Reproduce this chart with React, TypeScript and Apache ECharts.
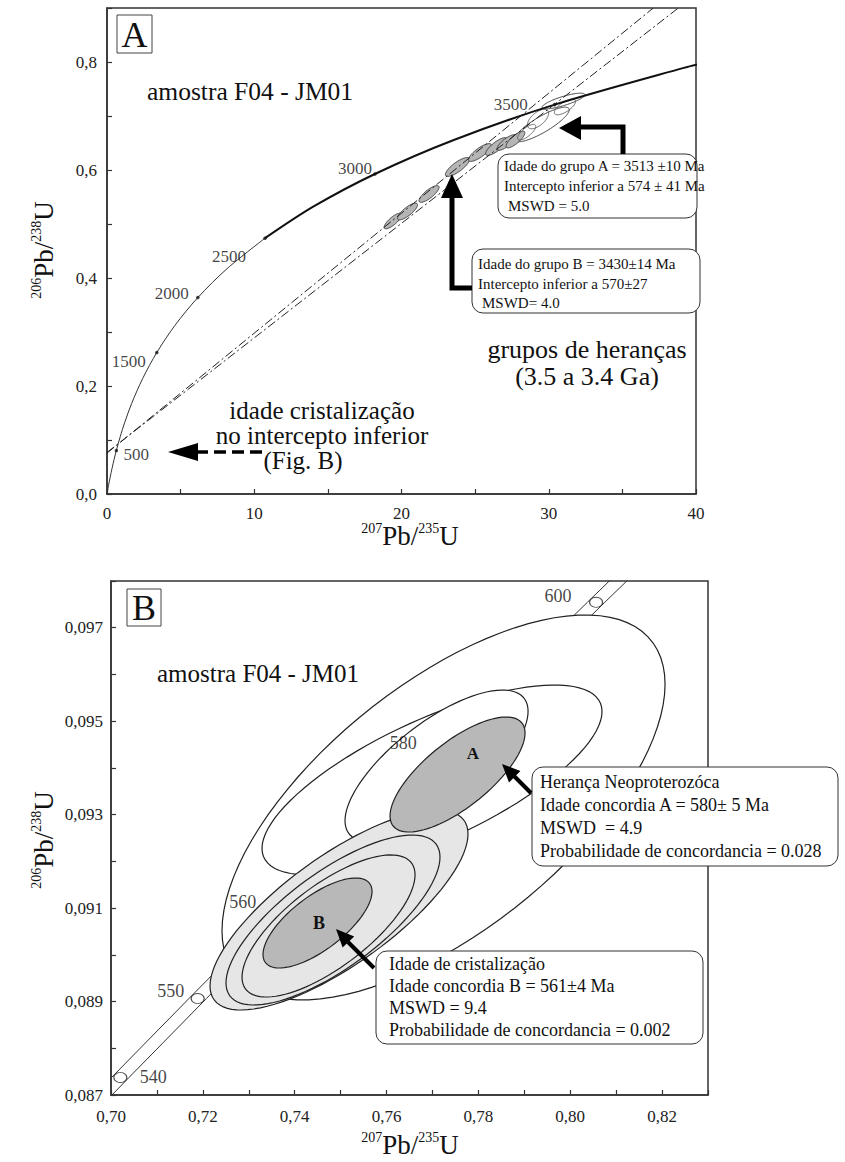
import React, { useEffect, useRef } from 'react';
import * as echarts from 'echarts';

const FONT = "'Liberation Serif', 'Times New Roman', serif";

// ---------------- Panel A (full concordia) ----------------
const concordiaAgesA = [0, 50, 100, 200, 300, 400, 500, 650, 800, 1000, 1250, 1500, 1750, 2000, 2250, 2500, 2750, 3000, 3250, 3500, 3750, 3800];
const concordiaXA = [0, 0.0505, 0.1035, 0.2177, 0.3437, 0.4828, 0.6363, 0.8968, 1.1987, 1.6774, 2.4249, 3.381, 4.604, 6.1685, 8.17, 10.73, 14.004, 18.193, 23.551, 30.405, 39.173, 41.2];
const concordiaYA = [0, 0.00779, 0.01563, 0.03151, 0.04764, 0.06402, 0.08065, 0.10609, 0.13213, 0.16781, 0.21398, 0.26199, 0.3119, 0.36377, 0.41769, 0.47374, 0.53203, 0.59262, 0.65559, 0.72106, 0.78912, 0.80295];
const markedAgesA = [500, 1500, 2000, 2500, 3000, 3500];
// discordia lines (lower intercept region -> top border)
const discordiaGroupA = [[0, 0.077], [38.8, 0.9]];
const discordiaGroupB = [[0, 0.0757], [37.1, 0.9]];
// spots: [x, y, half-extent x, half-extent y, rho]
const spotsWhiteA = [
  [29.54, 0.6843, 1.85, 0.032, 0.85],
  [31.0, 0.7278, 1.45, 0.0145, 0.8],
];
const spotsGreyA = [
  [19.42, 0.5056, 0.6, 0.0145, 0.8],
  [20.41, 0.5231, 0.68, 0.0155, 0.8],
  [21.87, 0.5556, 0.68, 0.0155, 0.8],
  [23.8, 0.6056, 0.82, 0.0175, 0.8],
  [25.33, 0.6324, 0.78, 0.0165, 0.8],
  [26.45, 0.6435, 0.74, 0.0165, 0.8],
  [27.13, 0.6509, 0.64, 0.0145, 0.8],
  [27.74, 0.6565, 0.64, 0.0155, 0.8],
];
const spotsOutlineA = [
  [29.27, 0.6944, 0.72, 0.018, 0.6],
  [31.1, 0.7167, 0.72, 0.0145, 0.7],
  [28.5, 0.6700, 0.62, 0.0145, 0.75],
];

// ---------------- Panel B (zoomed concordia) ----------------
const concordiaAgesB = [530, 540, 550, 560, 570, 580, 590, 600, 610];
const concordiaXB = [0.68535, 0.70203, 0.71887, 0.73588, 0.75306, 0.77041, 0.78793, 0.80563, 0.8235];
const concordiaYB = [0.085691, 0.087376, 0.089064, 0.090755, 0.092448, 0.094144, 0.095843, 0.097544, 0.099248];
const bandLowX = [0.68345, 0.70013, 0.71697, 0.73398, 0.75116, 0.76851, 0.78603, 0.80373, 0.8216];
const bandHighX = [0.68725, 0.70393, 0.72077, 0.73778, 0.75496, 0.77231, 0.78983, 0.80753, 0.8254];
const circledAgesB = [540, 550, 600];
const labelledAgesB = [540, 550, 560, 580, 600];
const ellOuterB = [[0.77241, 0.093153, 0.04824, 0.00412, 0.64]];
const ellMidB = [[0.7699, 0.093741, 0.03702, 0.002033, 0.72]];
const ellAringB = [[0.77089, 0.094041, 0.01993, 0.001626, 0.72]];
const ellLightB = [[0.74965, 0.090959, 0.02809, 0.00214, 0.76]];
const ellBringsB = [
  [0.74834, 0.090745, 0.0233, 0.001819, 0.74],
  [0.74737, 0.090617, 0.01884, 0.00152, 0.72],
];
const ellBgreyB = [[0.74497, 0.090681, 0.01187, 0.000963, 0.7]];
const ellAgreyB = [[0.77546, 0.093859, 0.0147, 0.001231, 0.72]];

// label placement (pixel offsets, styling only)
const labelOffsetA: Record<number, number[]> = { 500: [20, 4], 1500: [-28, 9], 2000: [-26, -4], 2500: [-36, 18], 3000: [-20, -5], 3500: [-44, 0] };
const labelOffsetB: Record<number, number[]> = { 540: [33, 0], 550: [-27, -8], 560: [-33, -18], 580: [-31, -18], 600: [-38, -6] };

function ellipseSeries(data: number[][], gi: number, fill: string, stroke: string, lw: number, z: number) {
  return {
    type: 'custom',
    xAxisIndex: gi,
    yAxisIndex: gi,
    z,
    clip: true,
    silent: true,
    data,
    encode: { x: 0, y: 1 },
    renderItem: (_p: any, api: any) => {
      const cx = api.value(0), cy = api.value(1), hx = api.value(2), hy = api.value(3), rho = api.value(4);
      const s = Math.sqrt(1 - rho * rho);
      const pts: number[][] = [];
      const N = 96;
      for (let i = 0; i < N; i++) {
        const t = (i / N) * Math.PI * 2;
        pts.push(api.coord([cx + hx * Math.cos(t), cy + hy * (rho * Math.cos(t) + s * Math.sin(t))]));
      }
      return { type: 'polygon', shape: { points: pts }, style: { fill, stroke, lineWidth: lw } };
    },
  };
}

function txt(x: number, y: number, text: string, size: number, align = 'left', extra: any = {}) {
  return {
    type: 'text', x, y, z: 60,
    style: { text, fontSize: size, fontFamily: FONT, fill: '#111', align, verticalAlign: 'middle', ...extra },
  };
}
function box(x: number, y: number, w: number, h: number) {
  return { type: 'rect', z: 55, shape: { x, y, width: w, height: h, r: 11 }, style: { fill: '#fff', stroke: '#333', lineWidth: 1 } };
}

const rich = {
  s: { fontSize: 14, fontFamily: FONT, verticalAlign: 'top', lineHeight: 14, fill: '#111' },
  b: { fontSize: 27, fontFamily: FONT, lineHeight: 30, fill: '#111' },
};
function title(x: number, y: number, text: string, rot = 0) {
  return { type: 'text', x, y, rotation: rot, z: 60, style: { text, rich, align: 'center', verticalAlign: 'middle' } };
}

function buildOption() {
  const axisBase = {
    type: 'value',
    axisLine: { show: true, lineStyle: { color: '#333', width: 1.5 } },
    axisTick: { show: true, inside: true, length: 5, lineStyle: { color: '#333', width: 1.2 } },
    splitLine: { show: false },
  };
  const lab = (margin: number, formatter: any) => ({ color: '#222', fontSize: 17, fontFamily: FONT, margin, formatter });

  const concA = concordiaAgesA.map((a, i) => [concordiaXA[i], concordiaYA[i], a]);
  const concThin = concA.filter((p) => p[2] <= 2500);
  const concThick = concA.filter((p) => p[2] >= 2500);
  const marksA = markedAgesA.map((a) => {
    const i = concordiaAgesA.indexOf(a);
    return { value: [concordiaXA[i], concordiaYA[i]], label: { offset: labelOffsetA[a] }, age: a };
  });

  const bandLow = bandLowX.map((x, i) => [x, concordiaYB[i]]);
  const bandHigh = bandHighX.map((x, i) => [x, concordiaYB[i]]);
  const circles = circledAgesB.map((a) => {
    const i = concordiaAgesB.indexOf(a);
    return [concordiaXB[i], concordiaYB[i]];
  });
  const labelsB = labelledAgesB.map((a) => {
    const i = concordiaAgesB.indexOf(a);
    return { value: [concordiaXB[i], concordiaYB[i], a], label: { offset: labelOffsetB[a] } };
  });

  const dashDot = { color: '#222', width: 1, type: [9, 3, 2, 3] };

  return {
    animation: false,
    backgroundColor: '#fff',
    textStyle: { fontFamily: FONT },
    grid: [
      { left: 107, top: 8, width: 589, height: 486, show: true, borderColor: '#333', borderWidth: 1.5, backgroundColor: 'transparent' },
      { left: 111, top: 581, width: 597, height: 514, show: true, borderColor: '#333', borderWidth: 1.5, backgroundColor: 'transparent' },
    ],
    xAxis: [
      { ...axisBase, gridIndex: 0, min: 0, max: 40, interval: 5,
        axisLabel: lab(11, (v: number) => (Math.round(v) % 10 === 0 ? String(Math.round(v)) : '')) },
      { ...axisBase, gridIndex: 1, min: 0.7, max: 0.83, interval: 0.01,
        axisLabel: lab(13, (v: number) => { const n = Math.round(v * 100); return n % 2 === 0 ? '0,' + n : ''; }) },
    ],
    yAxis: [
      { ...axisBase, gridIndex: 0, min: 0, max: 0.9, interval: 0.1,
        axisLabel: lab(10, (v: number) => { const n = Math.round(v * 10); return n % 2 === 0 && n <= 8 ? '0,' + n : ''; }) },
      { ...axisBase, gridIndex: 1, min: 0.087, max: 0.098, interval: 0.001,
        axisLabel: lab(8, (v: number) => { const n = Math.round(v * 1000); return n % 2 === 1 ? '0,0' + n : ''; }) },
    ],
    series: [
      // ---- panel A ----
      ellipseSeries(spotsWhiteA, 0, '#ffffff', '#333', 0.9, 3),
      ellipseSeries(spotsGreyA, 0, '#b5b5b5', '#333', 0.9, 4),
      ellipseSeries(spotsOutlineA, 0, 'rgba(255,255,255,0)', '#555', 0.9, 5),
      { type: 'line', xAxisIndex: 0, yAxisIndex: 0, data: concThin, smooth: 0.3, showSymbol: false, z: 6,
        lineStyle: { color: '#333', width: 1 } },
      { type: 'line', xAxisIndex: 0, yAxisIndex: 0, data: concThick, smooth: 0.3, showSymbol: false, z: 6,
        lineStyle: { color: '#111', width: 2 } },
      { type: 'line', xAxisIndex: 0, yAxisIndex: 0, data: discordiaGroupA, showSymbol: false, z: 7, lineStyle: dashDot },
      { type: 'line', xAxisIndex: 0, yAxisIndex: 0, data: discordiaGroupB, showSymbol: false, z: 7, lineStyle: dashDot },
      { type: 'scatter', xAxisIndex: 0, yAxisIndex: 0, data: marksA, symbolSize: 3.5, z: 8,
        itemStyle: { color: '#111' },
        label: { show: true, position: 'inside', color: '#111', fontSize: 17, fontFamily: FONT,
          formatter: (p: any) => String(p.data.age) } },
      // ---- panel B ----
      { type: 'line', xAxisIndex: 1, yAxisIndex: 1, data: bandLow, showSymbol: false, z: 2, lineStyle: { color: '#333', width: 1 } },
      { type: 'line', xAxisIndex: 1, yAxisIndex: 1, data: bandHigh, showSymbol: false, z: 2, lineStyle: { color: '#333', width: 1 } },
      { type: 'scatter', xAxisIndex: 1, yAxisIndex: 1, data: circles, symbol: 'circle', symbolSize: [13, 10], z: 3,
        itemStyle: { color: '#fff', borderColor: '#222', borderWidth: 1 } },
      ellipseSeries(ellOuterB, 1, '#ffffff', '#222', 1.2, 4),
      ellipseSeries(ellMidB, 1, '#ffffff', '#222', 1.2, 5),
      ellipseSeries(ellAringB, 1, '#ffffff', '#222', 1.2, 6),
      ellipseSeries(ellLightB, 1, '#e6e6e6', '#222', 1.2, 7),
      ellipseSeries(ellBringsB, 1, '#e6e6e6', '#222', 1.2, 8),
      ellipseSeries(ellBgreyB, 1, '#b8b8b8', '#222', 1.2, 9),
      ellipseSeries(ellAgreyB, 1, '#b8b8b8', '#222', 1.2, 10),
      { type: 'scatter', xAxisIndex: 1, yAxisIndex: 1, data: labelsB, symbolSize: 1, z: 12,
        itemStyle: { color: 'rgba(0,0,0,0)' },
        label: { show: true, position: 'inside', color: '#111', fontSize: 18, fontFamily: FONT,
          formatter: (p: any) => String(p.data.value[2]) } },
    ],
    graphic: [
      // panel A
      { type: 'rect', z: 55, shape: { x: 117, y: 15, width: 35, height: 38 }, style: { fill: '#fff', stroke: '#444', lineWidth: 1 } },
      txt(134.5, 35, 'A', 36, 'center'),
      txt(147, 91, 'amostra F04 - JM01', 25.5),
      box(498, 154, 199, 64),
      txt(504, 166, 'Idade do grupo A = 3513 ±10 Ma', 15),
      txt(504, 186, 'Intercepto inferior a 574 ± 41 Ma', 15),
      txt(508, 206, 'MSWD = 5.0', 15),
      box(472, 249, 228, 64),
      txt(478, 264, 'Idade do grupo B = 3430±14 Ma', 15),
      txt(478, 284, 'Intercepto inferior a 570±27', 15),
      txt(482, 303, 'MSWD= 4.0', 15),
      { type: 'polyline', z: 58, shape: { points: [[623, 154], [623, 127], [578, 127]] }, style: { stroke: '#000', lineWidth: 5, fill: 'none' } },
      { type: 'polygon', z: 58, shape: { points: [[559, 128], [581, 116], [581, 140]] }, style: { fill: '#000' } },
      { type: 'polyline', z: 58, shape: { points: [[472, 288], [452, 288], [452, 195]] }, style: { stroke: '#000', lineWidth: 5, fill: 'none' } },
      { type: 'polygon', z: 58, shape: { points: [[452, 174], [441, 198], [463, 198]] }, style: { fill: '#000' } },
      txt(587, 349, 'grupos de heranças', 26, 'center'),
      txt(587, 376, '(3.5 a 3.4 Ga)', 26, 'center'),
      txt(322, 410, 'idade cristalização', 25, 'center'),
      txt(322, 435, 'no intercepto inferior', 25, 'center'),
      txt(303, 460, '(Fig. B)', 25, 'center'),
      { type: 'line', z: 58, shape: { x1: 262, y1: 452, x2: 196, y2: 452 }, style: { stroke: '#000', lineWidth: 3.5, lineDash: [12, 6] } },
      { type: 'polygon', z: 58, shape: { points: [[168, 452], [198, 443], [198, 461]] }, style: { fill: '#000' } },
      title(410, 536, '{s|207}{b|Pb/}{s|235}{b|U}'),
      title(44, 250, '{s|206}{b|Pb/}{s|238}{b|U}', Math.PI / 2),
      // panel B
      { type: 'rect', z: 55, shape: { x: 127, y: 589, width: 34, height: 37 }, style: { fill: '#fff', stroke: '#444', lineWidth: 1 } },
      txt(144, 608, 'B', 36, 'center'),
      txt(157, 673, 'amostra F04 - JM01', 25),
      txt(473, 753, 'A', 17, 'center', { fontWeight: 'bold' }),
      txt(319, 923, 'B', 18, 'center', { fontWeight: 'bold' }),
      box(532, 767, 306, 99),
      txt(540, 782, 'Herança Neoproterozóca', 18),
      txt(540, 805, 'Idade concordia A = 580± 5 Ma', 18),
      txt(540, 828, 'MSWD  = 4.9', 18),
      txt(540, 851, 'Probabilidade de concordancia = 0.028', 18),
      { type: 'line', z: 58, shape: { x1: 531, y1: 793, x2: 514, y2: 776 }, style: { stroke: '#000', lineWidth: 4 } },
      { type: 'polygon', z: 58, shape: { points: [[502, 764], [520.4, 771], [509, 782.4]] }, style: { fill: '#000' } },
      box(376, 951, 327, 93),
      txt(389, 964, 'Idade de cristalização', 18),
      txt(389, 986, 'Idade concordia B = 561±4 Ma', 18),
      txt(389, 1008, 'MSWD = 9.4', 18),
      txt(389, 1030, 'Probabilidade de concordancia = 0.002', 18),
      { type: 'line', z: 58, shape: { x1: 374, y1: 968, x2: 348, y2: 942 }, style: { stroke: '#000', lineWidth: 4 } },
      { type: 'polygon', z: 58, shape: { points: [[336, 929], [354.2, 936.5], [342.6, 947.5]] }, style: { fill: '#000' } },
      title(410, 1145, '{s|207}{b|Pb/}{s|235}{b|U}'),
      title(44, 840, '{s|206}{b|Pb/}{s|238}{b|U}', Math.PI / 2),
    ],
  };
}

export default function App() {
  const ref = useRef<HTMLDivElement>(null);
  useEffect(() => {
    const chart = echarts.init(ref.current as HTMLDivElement, undefined, { renderer: 'svg' });
    chart.setOption(buildOption() as any);
    return () => chart.dispose();
  }, []);
  return <div ref={ref} style={{ position: 'absolute', left: 0, top: 0, width: 845, height: 1162, background: '#fff' }} />;
}
